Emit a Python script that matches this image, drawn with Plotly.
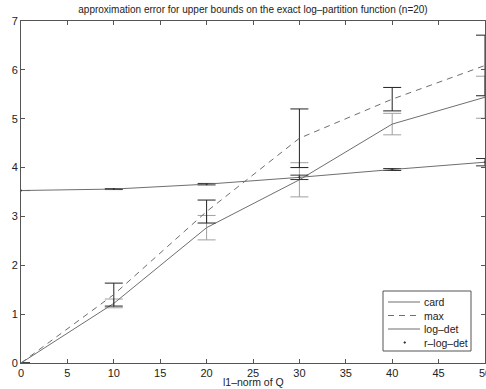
import plotly.graph_objects as go

x = [0, 10, 20, 30, 40, 50]
card = [0.0, 1.22, 2.77, 3.75, 4.89, 5.44]
card_err = [0.0, 0.09, 0.25, 0.35, 0.22, 0.43]
maxb = [0.0, 1.40, 3.10, 4.60, 5.40, 6.09]
max_err = [0.0, 0.235, 0.235, 0.60, 0.24, 0.62]
logdet = [3.53, 3.56, 3.66, 3.80, 3.96, 4.11]
logdet_err = [0.0, 0.01, 0.015, 0.045, 0.02, 0.075]
rlogdet = [3.53, 3.56, 3.66, 3.80, 3.96, 4.11]

series_names = ["card", "max", "log–det", "r–log–det"]
xticks = [0, 5, 10, 15, 20, 25, 30, 35, 40, 45, 50]
yticks = [0, 1, 2, 3, 4, 5, 6, 7]

FONT = "Liberation Sans, Arial, sans-serif"
LINE = "#6e6e6e"
W, H = 486, 389
ML, MR, MT, MB = 21, 1, 21, 26
PW, PH = W - ML - MR, H - MT - MB


def px(xp):
    return (xp - ML) / PW


def py(yp):
    return (H - MB - yp) / PH


fig = go.Figure()
fig.add_trace(go.Scatter(x=x, y=card, mode="lines", name=series_names[0],
                         line=dict(color=LINE, width=1),
                         error_y=dict(type="data", array=card_err, color="#a0a0a0", thickness=1, width=9)))
fig.add_trace(go.Scatter(x=x, y=maxb, mode="lines", name=series_names[1],
                         line=dict(color=LINE, width=1, dash="6px,5px"),
                         error_y=dict(type="data", array=max_err, color="#222222", thickness=1, width=9)))
fig.add_trace(go.Scatter(x=x, y=logdet, mode="lines", name=series_names[2],
                         line=dict(color=LINE, width=1),
                         error_y=dict(type="data", array=logdet_err, color="#333333", thickness=1, width=9)))
fig.add_trace(go.Scatter(x=x, y=rlogdet, mode="markers", name=series_names[3],
                         marker=dict(color="#333333", size=2)))

axis_common = dict(showgrid=False, zeroline=False, showline=True, linecolor="#555555", linewidth=1,
                   mirror="ticks", ticks="inside", ticklen=4, tickcolor="#555555", automargin=False,
                   ticklabeloverflow="allow",
                   tickfont=dict(family=FONT, size=11, color="#222222"))

# manual legend box (MATLAB style)
shapes = [dict(type="rect", xref="paper", yref="paper", x0=px(383), x1=px(471), y0=py(351), y1=py(291),
               line=dict(color="#555555", width=1), fillcolor="white", layer="above")]
annotations = []
rows = [302, 315.5, 329, 342.5]
styles = ["solid", "6px,5px", "solid", None]
for name, ry, st in zip(series_names, rows, styles):
    if st is not None:
        shapes.append(dict(type="line", xref="paper", yref="paper", x0=px(388), x1=px(420),
                           y0=py(ry), y1=py(ry), line=dict(color=LINE, width=1, dash=st), layer="above"))
    else:
        shapes.append(dict(type="circle", xref="paper", yref="paper", x0=px(404), x1=px(405.5),
                           y0=py(ry + 0.75), y1=py(ry - 0.75), line=dict(color="#333333", width=1),
                           fillcolor="#333333", layer="above"))
    annotations.append(dict(text=name, x=px(422), xref="paper", xanchor="left", y=py(ry), yref="paper",
                            yanchor="middle", showarrow=False,
                            font=dict(family=FONT, size=10.5, color="#222222")))

annotations.append(dict(text="l1–norm of Q", x=0.5, xref="paper", y=py(381.5), yref="paper",
                        yanchor="middle", showarrow=False, font=dict(family=FONT, size=10.5, color="#222222")))

fig.update_layout(
    width=W, height=H,
    margin=dict(l=ML, r=MR, t=MT, b=MB),
    paper_bgcolor="white", plot_bgcolor="white",
    title=dict(text="approximation error for upper bounds on the exact log–partition function (n=20)",
               x=0.5, xref="paper", y=1, yref="container", yanchor="top", pad=dict(t=6),
               font=dict(family=FONT, size=10, color="#222222")),
    xaxis=dict(range=[0, 50], tickvals=xticks, ticktext=[str(v) for v in xticks], **axis_common),
    yaxis=dict(range=[0, 7], tickvals=yticks, ticktext=[str(v) for v in yticks], **axis_common),
    showlegend=False,
    shapes=shapes,
    annotations=annotations,
)

fig.write_html("out.html", config={"displayModeBar": False},
               post_script="document.body.style.margin='0';document.body.style.overflow='hidden';")
